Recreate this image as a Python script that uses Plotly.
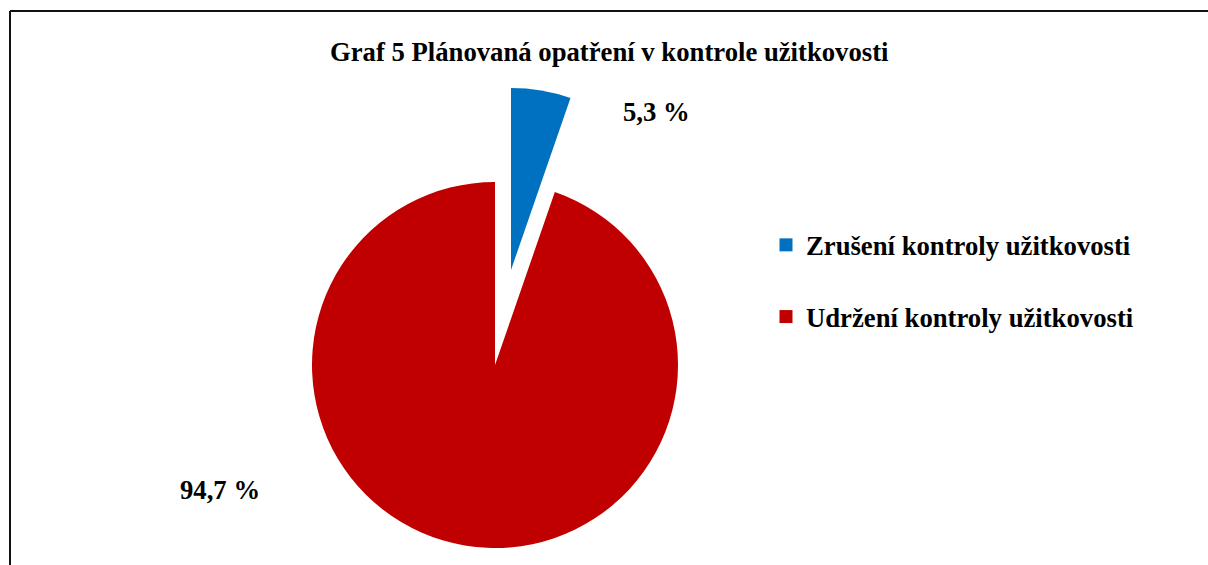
import plotly.graph_objects as go

# Data
categories = ["Zrušení kontroly užitkovosti", "Udržení kontroly užitkovosti"]
values = [5.3, 94.7]
colors = ["#0070C0", "#C00000"]
title_text = "Graf 5 Plánovaná opatření v kontrole užitkovosti"

W, H = 1208, 565
FONT = "Liberation Serif, Times New Roman, serif"
FS = 26.7


def dom(cx, cy, r):
    return dict(x=[(cx - r) / W, (cx + r) / W], y=[1 - (cy + r) / H, 1 - (cy - r) / H])


transparent = "rgba(0,0,0,0)"

fig = go.Figure()
# main pie (retained slice)
fig.add_trace(go.Pie(
    labels=categories, values=values, sort=False, direction="clockwise", rotation=0,
    marker=dict(colors=[transparent, colors[1]], line=dict(width=0)),
    textinfo="none", hoverinfo="label+percent", showlegend=False,
    domain=dom(495, 365, 183),
))
# exploded slice
fig.add_trace(go.Pie(
    labels=categories, values=values, sort=False, direction="clockwise", rotation=0,
    marker=dict(colors=[colors[0], transparent], line=dict(width=0)),
    textinfo="none", hoverinfo="label+percent", showlegend=False,
    domain=dom(511, 270, 182),
))
# legend entries
for i, (lab, col) in enumerate(zip(categories, colors)):
    fig.add_trace(go.Scatter(
        x=[None], y=[None], mode="markers", name=lab, legendgroup=f"g{i}",
        marker=dict(symbol="square", size=13, color=col),
    ))

fmt = lambda v: f"{v:.1f} %".replace(".", ",")
label_pos = [(656, 112), (220, 490)]
annotations = [
    dict(text=fmt(v), x=px / W, y=1 - py / H, xref="paper", yref="paper",
         showarrow=False, xanchor="center", yanchor="middle",
         font=dict(family=FONT, size=FS, color="black", weight="bold"))
    for v, (px, py) in zip(values, label_pos)
]
annotations.append(dict(
    text=title_text, x=609 / W, y=1 - 52 / H, xref="paper", yref="paper",
    showarrow=False, xanchor="center", yanchor="middle",
    font=dict(family=FONT, size=FS, color="black", weight="bold"),
))

fig.update_layout(
    width=W, height=H, margin=dict(l=0, r=0, t=0, b=0),
    paper_bgcolor="white", plot_bgcolor="white",
    xaxis=dict(visible=False), yaxis=dict(visible=False),
    annotations=annotations,
    legend=dict(x=766 / W, y=1 - 221 / H, xanchor="left", yanchor="top",
                traceorder="grouped", tracegroupgap=34,
                font=dict(family=FONT, size=FS, color="black", weight="bold"),
                bgcolor="rgba(0,0,0,0)"),
    shapes=[
        dict(type="line", xref="paper", yref="paper", x0=10 / W, x1=1.02, y0=1 - 11 / H, y1=1 - 11 / H,
             line=dict(color="#111111", width=2)),
        dict(type="line", xref="paper", yref="paper", x0=10 / W, x1=10 / W, y0=1 - 11 / H, y1=-0.05,
             line=dict(color="#111111", width=2)),
    ],
)

fig.write_html("out.html", config={"displayModeBar": False},
               post_script="document.body.style.margin='0';document.body.style.overflow='hidden';")
